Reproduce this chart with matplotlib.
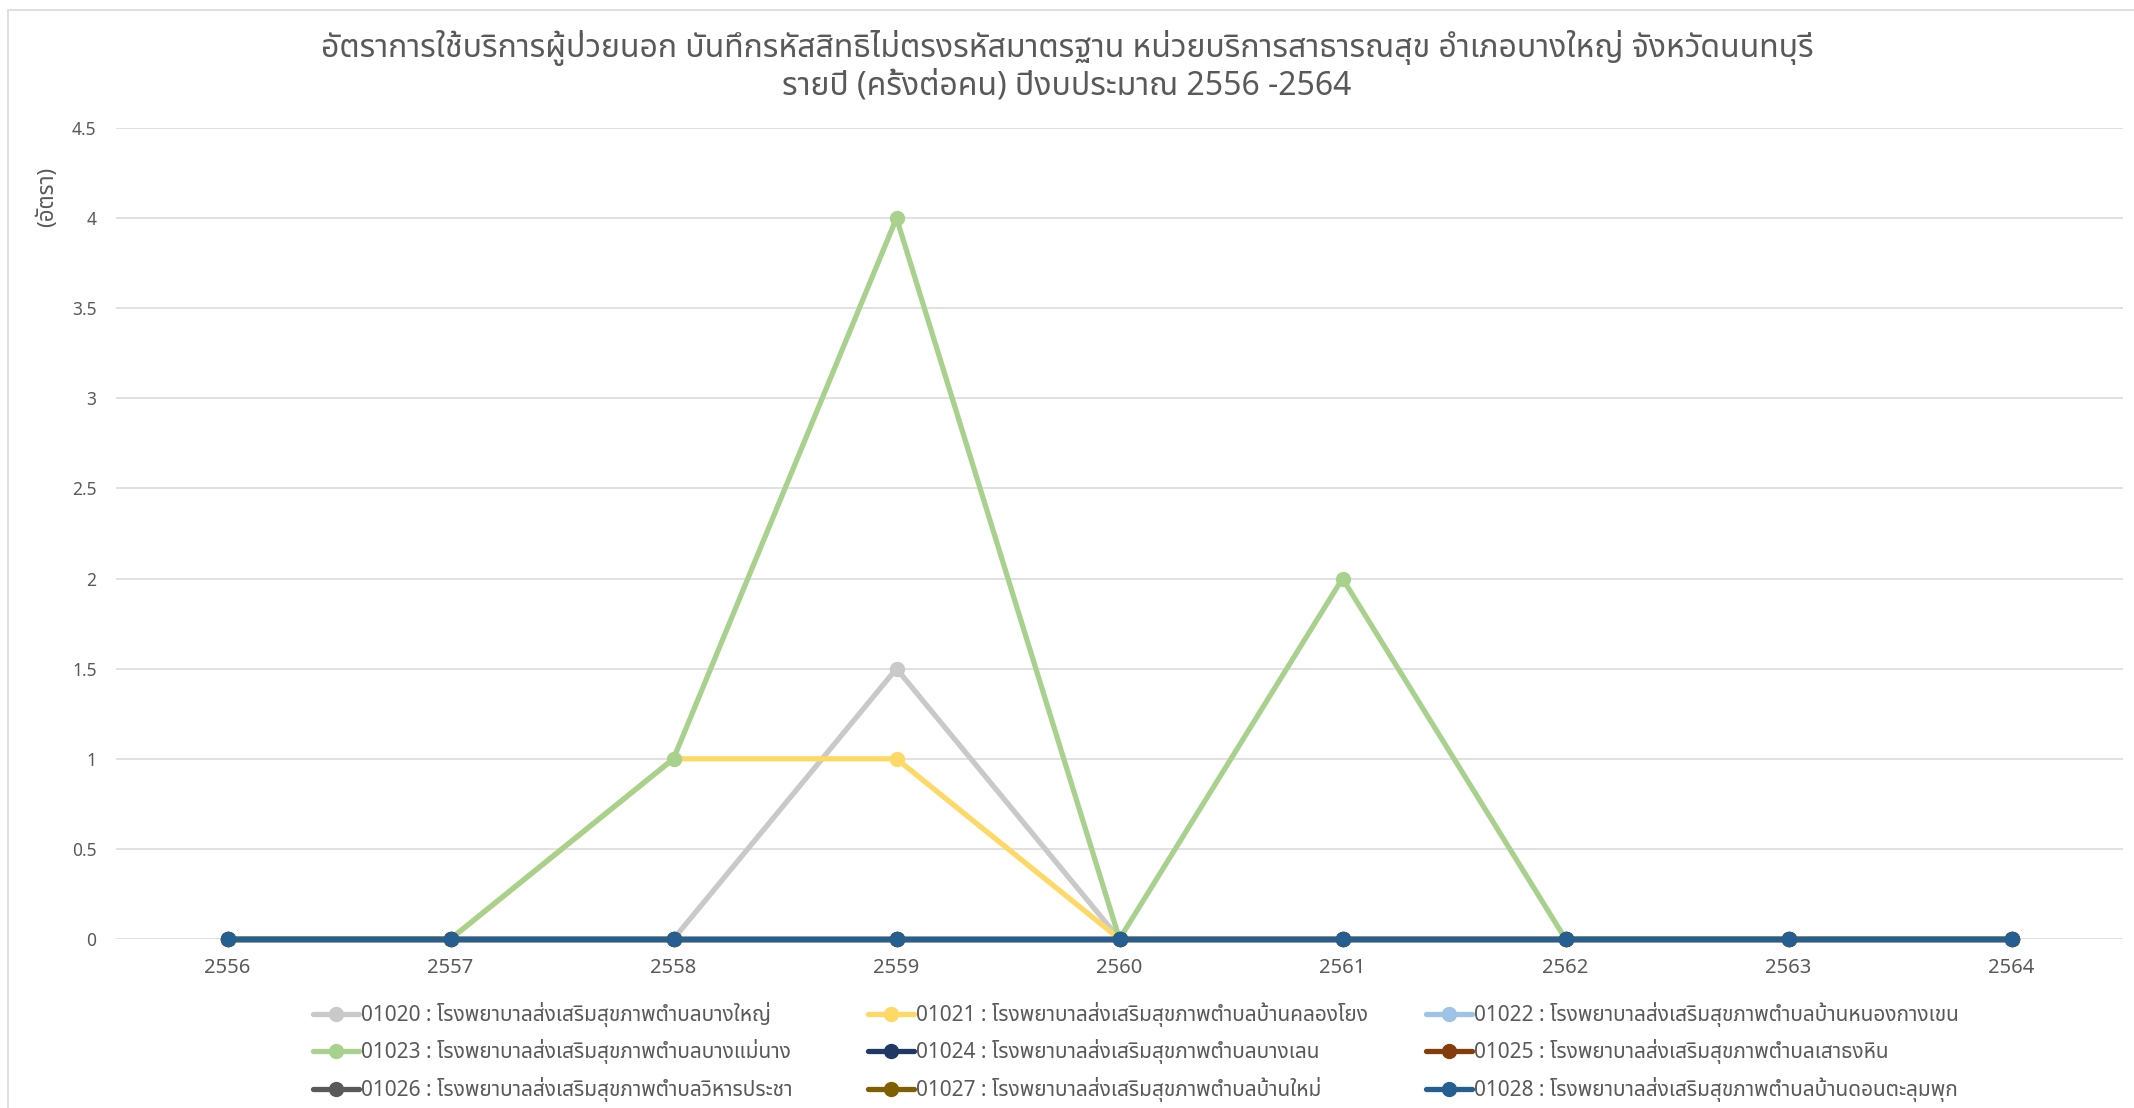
import matplotlib
matplotlib.use('Agg')
import matplotlib.pyplot as plt
from matplotlib import font_manager
from matplotlib.patches import Rectangle

# ---- data -------------------------------------------------------------
years = ['2556', '2557', '2558', '2559', '2560', '2561', '2562', '2563', '2564']

codes = ['01020', '01021', '01022', '01023', '01024',
         '01025', '01026', '01027', '01028']
names = ['โรงพยาบาลส่งเสริมสุขภาพตำบลบางใหญ่',
         'โรงพยาบาลส่งเสริมสุขภาพตำบลบ้านคลองโยง',
         'โรงพยาบาลส่งเสริมสุขภาพตำบลบ้านหนองกางเขน',
         'โรงพยาบาลส่งเสริมสุขภาพตำบลบางแม่นาง',
         'โรงพยาบาลส่งเสริมสุขภาพตำบลบางเลน',
         'โรงพยาบาลส่งเสริมสุขภาพตำบลเสาธงหิน',
         'โรงพยาบาลส่งเสริมสุขภาพตำบลวิหารประชา',
         'โรงพยาบาลส่งเสริมสุขภาพตำบลบ้านใหม่',
         'โรงพยาบาลส่งเสริมสุขภาพตำบลบ้านดอนตะลุมพุก']

r01020 = [0, 0, 0, 1.5, 0, 0, 0, 0, 0]
r01021 = [0, 0, 1, 1, 0, 0, 0, 0, 0]
r01022 = [0, 0, 0, 0, 0, 0, 0, 0, 0]
r01023 = [0, 0, 1, 4, 0, 2, 0, 0, 0]
r01024 = [0, 0, 0, 0, 0, 0, 0, 0, 0]
r01025 = [0, 0, 0, 0, 0, 0, 0, 0, 0]
r01026 = [0, 0, 0, 0, 0, 0, 0, 0, 0]
r01027 = [0, 0, 0, 0, 0, 0, 0, 0, 0]
r01028 = [0, 0, 0, 0, 0, 0, 0, 0, 0]
series = [r01020, r01021, r01022, r01023, r01024,
          r01025, r01026, r01027, r01028]

colors = ['#c9c9c9', '#ffd966', '#9dc3e6', '#a9d18e', '#203864',
          '#843c0c', '#595959', '#7f6000', '#255e91']

yticks = [0, 0.5, 1, 1.5, 2, 2.5, 3, 3.5, 4, 4.5]

title = ('อัตราการใช้บริการผู้ป่วยนอก บันทึกรหัสสิทธิไม่ตรงรหัสมาตรฐาน '
         'หน่วยบริการสาธารณสุข อำเภอบางใหญ่ จังหวัดนนทบุรี\n'
         'รายปี (ครั้งต่อคน) ปีงบประมาณ 2556 -2564')
ylabel = '(อัตรา)'

# ---- fonts ------------------------------------------------------------
installed = set(f.name for f in font_manager.fontManager.ttflist)
thai_font = next((f for f in ['Noto Sans Thai', 'Noto Sans Thai UI',
                              'IBM Plex Sans Thai', 'Sarabun', 'Loma']
                  if f in installed), 'DejaVu Sans')
FAM = ['Noto Sans', thai_font, 'DejaVu Sans']
plt.rcParams['font.family'] = FAM

TXT = '#595959'
GRID = '#d9d9d9'
W, H = 2134, 1108

fig = plt.figure(figsize=(W / 100, H / 100), dpi=100)
fig.patches.append(Rectangle((8 / W, -0.1), 1.2, 1.1 - 10 / H,
                             transform=fig.transFigure, fill=False,
                             edgecolor=GRID, lw=1.2))

ax = fig.add_axes([116 / W, 1 - 939 / H, (2123 - 116) / W, (939 - 128) / H])
x = list(range(len(years)))
lines = []
for code, name, vals, c in zip(codes, names, series, colors):
    ln, = ax.plot(x, vals, color=c, lw=3.8, marker='o', ms=10,
                  solid_capstyle='round', clip_on=False,
                  label=f'{code} : {name}')
    lines.append(ln)

ax.set_xlim(-0.5, len(years) - 0.5)
ax.set_ylim(0, 4.5)
ax.set_yticks(yticks)
ax.set_yticklabels([f'{v:g}' for v in yticks])
ax.set_xticks(x)
ax.set_xticklabels(years)
ax.tick_params(axis='y', length=0, pad=14, labelsize=12.5, labelcolor=TXT)
ax.tick_params(axis='x', length=0, pad=13.5, labelsize=14.5, labelcolor=TXT)
ax.grid(axis='y', color=GRID, lw=1.1)
ax.set_axisbelow(True)
for s in ax.spines.values():
    s.set_visible(False)

fig.text(47 / W, 1 - 197 / H, ylabel, rotation=90, ha='center', va='center',
         fontsize=16, color=TXT)
fig.text(0.5, 1 - 66 / H, title, ha='center', va='center', fontsize=23,
         color=TXT, linespacing=1.15)

# legend: three equal columns, filled row by row
col_x = [313, 868, 1426]
for ci, cx in enumerate(col_x):
    hs = lines[ci::3]
    fig.legend(handles=hs, labels=[h.get_label() for h in hs],
               loc='upper left', bbox_to_anchor=(cx / W, 1 - 1002 / H),
               frameon=False, fontsize=15, labelcolor=TXT,
               handlelength=2.2, handletextpad=0.12, labelspacing=0.6,
               borderpad=0, borderaxespad=0)

fig.savefig('out.png', dpi=100)
